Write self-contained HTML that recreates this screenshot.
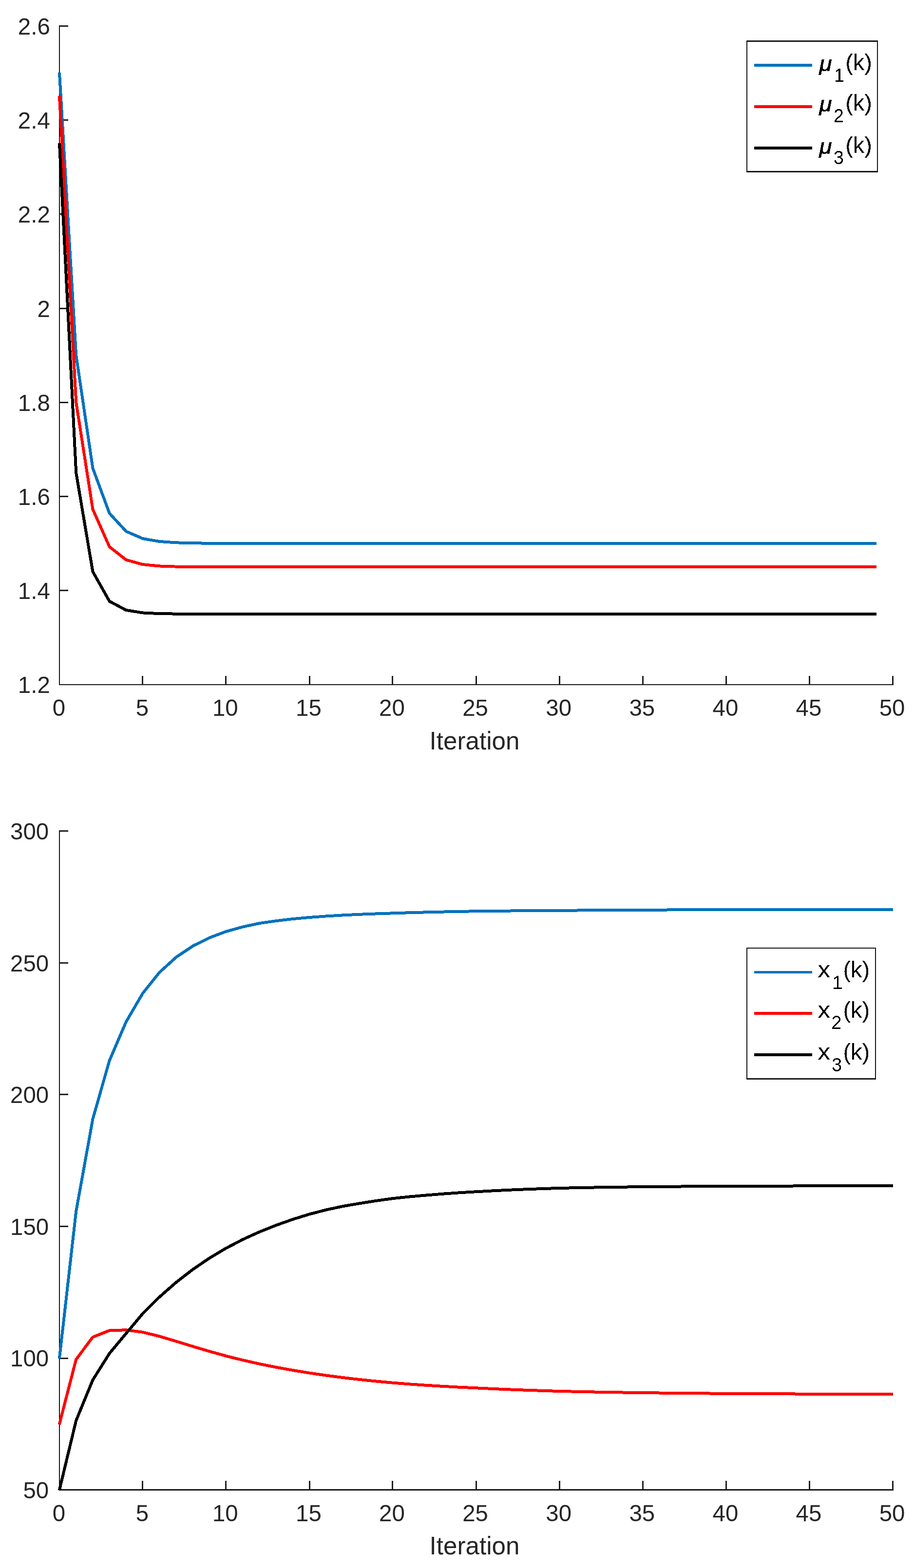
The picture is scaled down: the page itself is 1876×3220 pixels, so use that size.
<!DOCTYPE html>
<html lang="en">
<head>
<meta charset="utf-8">
<title>Iteration plots</title>
<style>
html,body{margin:0;padding:0;background:#fff;}
body{width:1876px;height:3220px;overflow:hidden;}
svg{display:block;}
text{font-family:"Liberation Sans",Arial,Helvetica,sans-serif;}
.t{font-size:46.90px;fill:#262626;}
.l{font-size:51.20px;fill:#262626;}
.g{font-size:46.90px;fill:#000;}
.s{font-size:37.50px;fill:#000;}
.m{font-size:42.40px;fill:#000;font-style:italic;stroke:#000;stroke-width:0.5px;}
.ax{fill:#171717;shape-rendering:crispEdges;}
.tk{fill:#1f1f1f;shape-rendering:crispEdges;}
.c{fill:none;stroke-width:6;stroke-linejoin:round;stroke-linecap:butt;shape-rendering:crispEdges;}
.k{shape-rendering:crispEdges;}
</style>
</head>
<body>
<svg width="1876" height="3220" viewBox="0 0 1876 3220">
<defs>
<filter id="al" x="-5%" y="-5%" width="110%" height="110%" color-interpolation-filters="sRGB">
<feComponentTransfer><feFuncA type="discrete" tableValues="0 1"/></feComponentTransfer>
</filter>
</defs>
<rect x="0" y="0" width="1876" height="3220" fill="#ffffff"/>
<g id="p1-axes">
<rect class="tk" x="291" y="1388" width="3" height="19"/>
<rect class="tk" x="462" y="1388" width="3" height="19"/>
<rect class="tk" x="634" y="1388" width="3" height="19"/>
<rect class="tk" x="804" y="1388" width="3" height="19"/>
<rect class="tk" x="976" y="1388" width="3" height="19"/>
<rect class="tk" x="1147" y="1388" width="3" height="19"/>
<rect class="tk" x="1318" y="1388" width="3" height="19"/>
<rect class="tk" x="1489" y="1388" width="3" height="19"/>
<rect class="tk" x="1660" y="1388" width="3" height="19"/>
<rect class="tk" x="1831" y="1388" width="3" height="19"/>
<rect class="tk" x="121" y="52" width="19" height="3"/>
<rect class="tk" x="121" y="245" width="19" height="3"/>
<rect class="tk" x="121" y="438" width="19" height="3"/>
<rect class="tk" x="121" y="632" width="19" height="3"/>
<rect class="tk" x="121" y="825" width="19" height="3"/>
<rect class="tk" x="121" y="1018" width="19" height="3"/>
<rect class="tk" x="121" y="1211" width="19" height="3"/>
<rect class="ax" x="121" y="52" width="2" height="1355"/>
<rect class="ax" x="121" y="1405" width="1713" height="2"/>
</g>
<g class="t" text-anchor="middle">
<text transform="translate(120.90 1470.40) scale(1.012 1.043)">0</text>
<text transform="translate(292.00 1470.40) scale(1.012 1.043)">5</text>
<text transform="translate(462.30 1470.40) scale(1.012 1.043)">10</text>
<text transform="translate(633.40 1470.40) scale(1.012 1.043)">15</text>
<text transform="translate(804.50 1470.40) scale(1.012 1.043)">20</text>
<text transform="translate(975.60 1470.40) scale(1.012 1.043)">25</text>
<text transform="translate(1146.70 1470.40) scale(1.012 1.043)">30</text>
<text transform="translate(1317.80 1470.40) scale(1.012 1.043)">35</text>
<text transform="translate(1488.90 1470.40) scale(1.012 1.043)">40</text>
<text transform="translate(1660.00 1470.40) scale(1.012 1.043)">45</text>
<text transform="translate(1831.10 1470.40) scale(1.012 1.043)">50</text>
</g>
<g class="t" text-anchor="end">
<text transform="translate(102.80 71.00) scale(1.012 1.043)">2.6</text>
<text transform="translate(102.80 264.00) scale(1.012 1.043)">2.4</text>
<text transform="translate(102.80 457.00) scale(1.012 1.043)">2.2</text>
<text transform="translate(102.80 651.00) scale(1.012 1.043)">2</text>
<text transform="translate(102.80 844.00) scale(1.012 1.043)">1.8</text>
<text transform="translate(102.80 1037.00) scale(1.012 1.043)">1.6</text>
<text transform="translate(102.80 1230.00) scale(1.012 1.043)">1.4</text>
<text transform="translate(102.80 1423.00) scale(1.012 1.043)">1.2</text>
</g>
<text class="l" text-anchor="middle" x="974.00" y="1538.50">Iteration</text>
<polyline class="c" stroke="#0072BD" points="121.93,148.89 156.22,729.60 190.44,961.41 224.66,1054.13 258.88,1091.22 293.10,1106.05 327.32,1111.99 361.54,1114.36 395.76,1115.31 429.98,1115.69 464.20,1115.84 498.42,1115.90 532.64,1115.93 566.86,1115.94 601.08,1115.94 635.30,1115.94 669.52,1115.94 703.74,1115.94 737.96,1115.94 772.18,1115.94 806.40,1115.94 840.62,1115.94 874.84,1115.94 909.06,1115.94 943.28,1115.94 977.50,1115.94 1011.72,1115.94 1045.94,1115.94 1080.16,1115.94 1114.38,1115.94 1148.60,1115.94 1182.82,1115.94 1217.04,1115.94 1251.26,1115.94 1285.48,1115.94 1319.70,1115.94 1353.92,1115.94 1388.14,1115.94 1422.36,1115.94 1456.58,1115.94 1490.80,1115.94 1525.02,1115.94 1559.24,1115.94 1593.46,1115.94 1627.68,1115.94 1661.90,1115.94 1696.12,1115.94 1730.34,1115.94 1764.56,1115.94 1798.78,1115.94"/>
<polyline class="c" stroke="#FF0000" points="121.93,197.18 156.22,826.19 190.44,1045.92 224.66,1122.82 258.88,1149.74 293.10,1159.16 327.32,1162.46 361.54,1163.61 395.76,1164.02 429.98,1164.16 464.20,1164.21 498.42,1164.23 532.64,1164.23 566.86,1164.23 601.08,1164.24 635.30,1164.24 669.52,1164.24 703.74,1164.24 737.96,1164.24 772.18,1164.24 806.40,1164.24 840.62,1164.24 874.84,1164.24 909.06,1164.24 943.28,1164.24 977.50,1164.24 1011.72,1164.24 1045.94,1164.24 1080.16,1164.24 1114.38,1164.24 1148.60,1164.24 1182.82,1164.24 1217.04,1164.24 1251.26,1164.24 1285.48,1164.24 1319.70,1164.24 1353.92,1164.24 1388.14,1164.24 1422.36,1164.24 1456.58,1164.24 1490.80,1164.24 1525.02,1164.24 1559.24,1164.24 1593.46,1164.24 1627.68,1164.24 1661.90,1164.24 1696.12,1164.24 1730.34,1164.24 1764.56,1164.24 1798.78,1164.24"/>
<polyline class="c" stroke="#000000" points="121.94,293.77 156.22,971.06 190.44,1173.89 224.66,1234.74 258.88,1253.00 293.10,1258.47 327.32,1260.12 361.54,1260.61 395.76,1260.76 429.98,1260.80 464.20,1260.82 498.42,1260.82 532.64,1260.82 566.86,1260.82 601.08,1260.82 635.30,1260.82 669.52,1260.82 703.74,1260.82 737.96,1260.82 772.18,1260.82 806.40,1260.82 840.62,1260.82 874.84,1260.82 909.06,1260.82 943.28,1260.82 977.50,1260.82 1011.72,1260.82 1045.94,1260.82 1080.16,1260.82 1114.38,1260.82 1148.60,1260.82 1182.82,1260.82 1217.04,1260.82 1251.26,1260.82 1285.48,1260.82 1319.70,1260.82 1353.92,1260.82 1388.14,1260.82 1422.36,1260.82 1456.58,1260.82 1490.80,1260.82 1525.02,1260.82 1559.24,1260.82 1593.46,1260.82 1627.68,1260.82 1661.90,1260.82 1696.12,1260.82 1730.34,1260.82 1764.56,1260.82 1798.78,1260.82"/>
<g>
<rect class="ax" x="1532" y="83" width="270" height="3"/>
<rect class="ax" x="1532" y="351" width="270" height="3"/>
<rect class="ax" x="1532" y="83" width="2" height="271"/>
<rect class="ax" x="1800" y="83" width="2" height="271"/>
<rect class="k" x="1548" y="131" width="119" height="6" fill="#0072BD"/>
<rect class="k" x="1548" y="216" width="119" height="6" fill="#FF0000"/>
<rect class="k" x="1548" y="301" width="119" height="6" fill="#000000"/>
</g>
<g filter="url(#al)">
<text class="m" transform="translate(1681.50 145.60) scale(1.117 1.03)">μ</text>
<text class="s" transform="translate(1712.00 168.00) scale(1 1.043)">1</text>
<text class="g" x="1735.20" y="144.00">(k)</text>
<text class="m" transform="translate(1681.50 228.60) scale(1.117 1.03)">μ</text>
<text class="s" transform="translate(1711.00 251.00) scale(1 1.043)">2</text>
<text class="g" x="1735.20" y="227.00">(k)</text>
<text class="m" transform="translate(1681.50 315.60) scale(1.117 1.03)">μ</text>
<text class="s" transform="translate(1711.00 337.00) scale(1 1.043)">3</text>
<text class="g" x="1735.20" y="314.00">(k)</text>
</g>
<g id="p2-axes">
<rect class="tk" x="291" y="3041" width="3" height="20"/>
<rect class="tk" x="462" y="3041" width="3" height="20"/>
<rect class="tk" x="634" y="3041" width="3" height="20"/>
<rect class="tk" x="804" y="3041" width="3" height="20"/>
<rect class="tk" x="976" y="3041" width="3" height="20"/>
<rect class="tk" x="1147" y="3041" width="3" height="20"/>
<rect class="tk" x="1318" y="3041" width="3" height="20"/>
<rect class="tk" x="1489" y="3041" width="3" height="20"/>
<rect class="tk" x="1660" y="3041" width="3" height="20"/>
<rect class="tk" x="1831" y="3041" width="3" height="20"/>
<rect class="tk" x="121" y="1705" width="19" height="3"/>
<rect class="tk" x="121" y="1976" width="19" height="3"/>
<rect class="tk" x="121" y="2246" width="19" height="3"/>
<rect class="tk" x="121" y="2517" width="19" height="3"/>
<rect class="tk" x="121" y="2788" width="19" height="3"/>
<rect class="ax" x="121" y="1705" width="2" height="1356"/>
<rect class="ax" x="121" y="3058" width="1713" height="3"/>
</g>
<g class="t" text-anchor="middle">
<text transform="translate(120.90 3124.20) scale(1.012 1.043)">0</text>
<text transform="translate(292.00 3124.20) scale(1.012 1.043)">5</text>
<text transform="translate(462.30 3124.20) scale(1.012 1.043)">10</text>
<text transform="translate(633.40 3124.20) scale(1.012 1.043)">15</text>
<text transform="translate(804.50 3124.20) scale(1.012 1.043)">20</text>
<text transform="translate(975.60 3124.20) scale(1.012 1.043)">25</text>
<text transform="translate(1146.70 3124.20) scale(1.012 1.043)">30</text>
<text transform="translate(1317.80 3124.20) scale(1.012 1.043)">35</text>
<text transform="translate(1488.90 3124.20) scale(1.012 1.043)">40</text>
<text transform="translate(1660.00 3124.20) scale(1.012 1.043)">45</text>
<text transform="translate(1831.10 3124.20) scale(1.012 1.043)">50</text>
</g>
<g class="t" text-anchor="end">
<text transform="translate(100.20 1724.00) scale(1.012 1.043)">300</text>
<text transform="translate(100.20 1995.00) scale(1.012 1.043)">250</text>
<text transform="translate(100.20 2265.00) scale(1.012 1.043)">200</text>
<text transform="translate(100.20 2536.00) scale(1.012 1.043)">150</text>
<text transform="translate(100.20 2806.00) scale(1.012 1.043)">100</text>
<text transform="translate(100.20 3077.00) scale(1.012 1.043)">50</text>
</g>
<text class="l" text-anchor="middle" x="974.00" y="3192.30">Iteration</text>
<polyline class="c" stroke="#0072BD" points="121.86,2790.09 156.22,2487.34 190.44,2298.03 224.66,2177.89 258.88,2098.33 293.10,2039.61 327.32,1996.83 361.54,1965.73 395.76,1942.73 429.98,1925.69 464.20,1912.91 498.42,1903.39 532.64,1896.03 566.86,1891.08 601.08,1887.06 635.30,1883.95 669.52,1881.41 703.74,1879.38 737.96,1877.75 772.18,1876.42 806.40,1875.32 840.62,1874.26 874.84,1873.34 909.06,1872.54 943.28,1871.85 977.50,1871.23 1011.72,1870.85 1045.94,1870.52 1080.16,1870.24 1114.38,1870.01 1148.60,1869.81 1182.82,1869.53 1217.04,1869.28 1251.26,1869.06 1285.48,1868.85 1319.70,1868.67 1353.92,1868.55 1388.14,1868.45 1422.36,1868.36 1456.58,1868.28 1490.80,1868.21 1525.02,1868.15 1559.24,1868.10 1593.46,1868.06 1627.68,1868.02 1661.90,1867.99 1696.12,1867.96 1730.34,1867.94 1764.56,1867.92 1798.78,1867.90 1833.00,1867.89"/>
<polyline class="c" stroke="#FF0000" points="121.70,2925.36 156.22,2791.61 190.44,2745.87 224.66,2732.29 258.88,2731.21 293.10,2735.81 327.32,2744.25 361.54,2754.43 395.76,2764.98 429.98,2775.15 464.20,2784.62 498.42,2793.12 532.64,2800.91 566.86,2807.84 601.08,2813.91 635.30,2819.55 669.52,2824.55 703.74,2829.00 737.96,2833.00 772.18,2836.55 806.40,2839.70 840.62,2842.40 874.84,2844.78 909.06,2846.87 943.28,2848.72 977.50,2850.33 1011.72,2851.97 1045.94,2853.43 1080.16,2854.74 1114.38,2855.90 1148.60,2856.95 1182.82,2857.75 1217.04,2858.46 1251.26,2859.08 1285.48,2859.63 1319.70,2860.12 1353.92,2860.53 1388.14,2860.90 1422.36,2861.22 1456.58,2861.50 1490.80,2861.75 1525.02,2861.97 1559.24,2862.17 1593.46,2862.34 1627.68,2862.49 1661.90,2862.62 1696.12,2862.81 1730.34,2862.98 1764.56,2863.13 1798.78,2863.28 1833.00,2863.42"/>
<polyline class="c" stroke="#000000" points="121.72,3060.67 156.22,2917.16 190.44,2833.82 224.66,2779.43 258.88,2738.30 293.10,2697.44 327.32,2663.45 361.54,2633.41 395.76,2606.89 429.98,2583.62 464.20,2563.17 498.42,2545.31 532.64,2529.72 566.86,2516.08 601.08,2503.96 635.30,2493.35 669.52,2484.51 703.74,2477.16 737.96,2471.29 772.18,2465.87 806.40,2461.12 840.62,2457.51 874.84,2454.48 909.06,2451.67 943.28,2449.28 977.50,2447.26 1011.72,2445.34 1045.94,2443.68 1080.16,2442.25 1114.38,2441.01 1148.60,2439.94 1182.82,2439.18 1217.04,2438.54 1251.26,2438.00 1285.48,2437.54 1319.70,2437.16 1353.92,2436.84 1388.14,2436.57 1422.36,2436.35 1456.58,2436.16 1490.80,2436.01 1525.02,2435.85 1559.24,2435.72 1593.46,2435.60 1627.68,2435.50 1661.90,2435.41 1696.12,2435.34 1730.34,2435.27 1764.56,2435.21 1798.78,2435.16 1833.00,2435.11"/>
<g>
<rect class="ax" x="1532" y="1946" width="266" height="2"/>
<rect class="ax" x="1532" y="2214" width="266" height="3"/>
<rect class="ax" x="1532" y="1946" width="2" height="271"/>
<rect class="ax" x="1796" y="1946" width="2" height="271"/>
<rect class="k" x="1548" y="1994" width="119" height="5" fill="#0072BD"/>
<rect class="k" x="1548" y="2078" width="119" height="6" fill="#FF0000"/>
<rect class="k" x="1548" y="2163" width="119" height="6" fill="#000000"/>
</g>
<g filter="url(#al)">
<text class="g" transform="translate(1678.60 2007.00) scale(1.09 1)">x</text>
<text class="s" transform="translate(1708.60 2031.00) scale(1 1.043)">1</text>
<text class="g" x="1730.50" y="2007.00">(k)</text>
<text class="g" transform="translate(1678.60 2090.00) scale(1.09 1)">x</text>
<text class="s" transform="translate(1706.60 2113.00) scale(1 1.043)">2</text>
<text class="g" x="1730.50" y="2090.00">(k)</text>
<text class="g" transform="translate(1678.60 2176.00) scale(1.09 1)">x</text>
<text class="s" transform="translate(1707.20 2200.00) scale(1 1.043)">3</text>
<text class="g" x="1730.50" y="2176.00">(k)</text>
</g>
</svg>
</body>
</html>
